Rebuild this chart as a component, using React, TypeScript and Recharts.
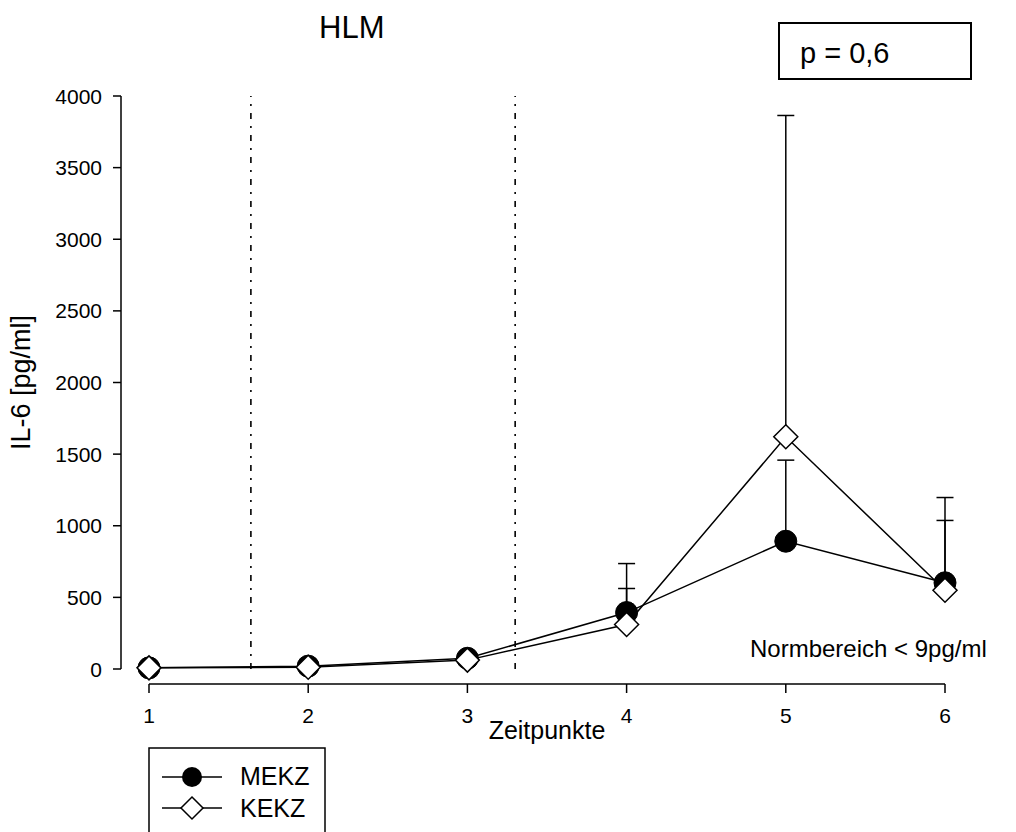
import {
  LineChart,
  Line,
  XAxis,
  YAxis,
  ReferenceLine,
  ErrorBar,
} from 'recharts';

// Zeitpunkte 1..6
const timePoints = [1, 2, 3, 4, 5, 6];

// IL-6 Mittelwerte und obere Fehlergrenzen [pg/ml]
const mekzMean = [8, 20, 75, 394, 892, 602];
const mekzUpper = [8, 20, 75, 736, 1458, 1197];
const kekzMean = [8, 12, 62, 311, 1621, 550];
const kekzUpper = [8, 12, 62, 562, 3864, 1037];

const yTicks = [0, 500, 1000, 1500, 2000, 2500, 3000, 3500, 4000];

// Phasengrenzen (strichpunktiert)
const phaseBoundaries = [1.64, 3.3];

const rows = timePoints.map((t, i) => ({
  t,
  mekz: mekzMean[i],
  kekz: kekzMean[i],
  mekzErr: [0, mekzUpper[i] - mekzMean[i]],
  kekzErr: [0, kekzUpper[i] - kekzMean[i]],
}));

const FONT = '"Liberation Sans", Arial, Helvetica, sans-serif';

// detached axes: y axis line at x=121, x axis line at y=684
const Y_AXIS_X = 121;
const X_AXIS_Y = 684;
const TICK_FONT = 21;

const FilledCircle = (props: any) => {
  const { cx, cy, index } = props;
  if (cx == null || cy == null) return <g key={`m-${index}`} />;
  return <circle key={`m-${index}`} cx={cx} cy={cy} r={11} fill="#000" stroke="#000" />;
};

const OpenDiamond = (props: any) => {
  const { cx, cy, index } = props;
  if (cx == null || cy == null) return <g key={`k-${index}`} />;
  const h = 12;
  return (
    <polygon
      key={`k-${index}`}
      points={`${cx},${cy - h} ${cx + h},${cy} ${cx},${cy + h} ${cx - h},${cy}`}
      fill="#fff"
      stroke="#000"
      strokeWidth={1.5}
    />
  );
};

const YTick = ({ y, payload }: any) => (
  <g>
    <line x1={Y_AXIS_X - 8} x2={Y_AXIS_X} y1={y} y2={y} stroke="#000" strokeWidth={1.5} />
    <text
      x={Y_AXIS_X - 19}
      y={y}
      textAnchor="end"
      dominantBaseline="central"
      fontSize={TICK_FONT}
      fill="#000"
    >
      {payload.value}
    </text>
  </g>
);

const XTick = ({ x, payload }: any) => (
  <g>
    <line x1={x} x2={x} y1={X_AXIS_Y} y2={X_AXIS_Y + 9} stroke="#000" strokeWidth={1.5} />
    <text x={x} y={X_AXIS_Y + 39} textAnchor="middle" fontSize={TICK_FONT} fill="#000">
      {payload.value}
    </text>
  </g>
);

const axisStroke = { stroke: '#000', strokeWidth: 1.5 };

export default function App() {
  return (
    <div
      style={{
        position: 'absolute',
        left: 0,
        top: 0,
        width: 1016,
        height: 832,
        overflow: 'hidden',
        background: '#fff',
        fontFamily: FONT,
      }}
    >
      {/* axis lines sit detached from the plot area */}
      <style>{`
        .axis-shift-x { transform: translate(0px, 15px); }
        .axis-shift-y { transform: translate(-28px, 0px); }
      `}</style>
      <LineChart
        width={1016}
        height={832}
        data={rows}
        margin={{ top: 96, right: 71, bottom: 93, left: 10 }}
      >
        <XAxis
          dataKey="t"
          type="number"
          domain={[1, 6]}
          ticks={timePoints}
          className="axis-shift-x"
          height={70}
          axisLine={axisStroke}
          tickLine={false}
          tick={XTick}
          label={{
            value: 'Zeitpunkte',
            position: 'insideBottom',
            offset: 0,
            fill: '#000',
            fontSize: 25,
          }}
        />
        <YAxis
          type="number"
          domain={[0, 4000]}
          ticks={yTicks}
          width={139}
          className="axis-shift-y"
          axisLine={axisStroke}
          tickLine={false}
          tick={YTick}
          label={{
            value: 'IL-6 [pg/ml]',
            angle: -90,
            position: 'insideLeft',
            offset: 10,
            fill: '#000',
            fontSize: 27,
            style: { textAnchor: 'middle' },
          }}
        />
        {phaseBoundaries.map((x) => (
          <ReferenceLine
            key={x}
            x={x}
            stroke="#000"
            strokeWidth={1.6}
            strokeDasharray="6 7 2 7"
          />
        ))}
        <Line
          dataKey="mekz"
          type="linear"
          stroke="#000"
          strokeWidth={1.5}
          dot={FilledCircle}
          activeDot={false}
          isAnimationActive={false}
        >
          <ErrorBar dataKey="mekzErr" direction="y" width={8.5} stroke="#000" strokeWidth={1.5} />
        </Line>
        <Line
          dataKey="kekz"
          type="linear"
          stroke="#000"
          strokeWidth={1.5}
          dot={OpenDiamond}
          activeDot={false}
          isAnimationActive={false}
        >
          <ErrorBar dataKey="kekzErr" direction="y" width={8.5} stroke="#000" strokeWidth={1.5} />
        </Line>
      </LineChart>

      {/* title, p-value box, note and legend */}
      <svg
        width={1016}
        height={832}
        style={{ position: 'absolute', left: 0, top: 0, pointerEvents: 'none' }}
        fontFamily={FONT}
      >
        <text x={319} y={38} fontSize={31} fill="#000">HLM</text>

        <rect x={779} y={23} width={192} height={56} fill="#fff" stroke="#000" strokeWidth={2} />
        <text x={800} y={63} fontSize={29} fill="#000">p = 0,6</text>

        <text x={750} y={657} fontSize={24} fill="#000">Normbereich &lt; 9pg/ml</text>

        <rect x={149} y={748} width={176} height={200} fill="#fff" stroke="#000" strokeWidth={1.5} />
        <line x1={162} x2={222} y1={777} y2={777} stroke="#000" strokeWidth={1.5} />
        <circle cx={192} cy={777} r={10} fill="#000" />
        <text x={240} y={785} fontSize={25} fill="#000">MEKZ</text>
        <line x1={162} x2={222} y1={808} y2={808} stroke="#000" strokeWidth={1.5} />
        <polygon points="192,797 203,808 192,819 181,808" fill="#fff" stroke="#000" strokeWidth={1.5} />
        <text x={240} y={817} fontSize={25} fill="#000">KEKZ</text>
      </svg>
    </div>
  );
}
